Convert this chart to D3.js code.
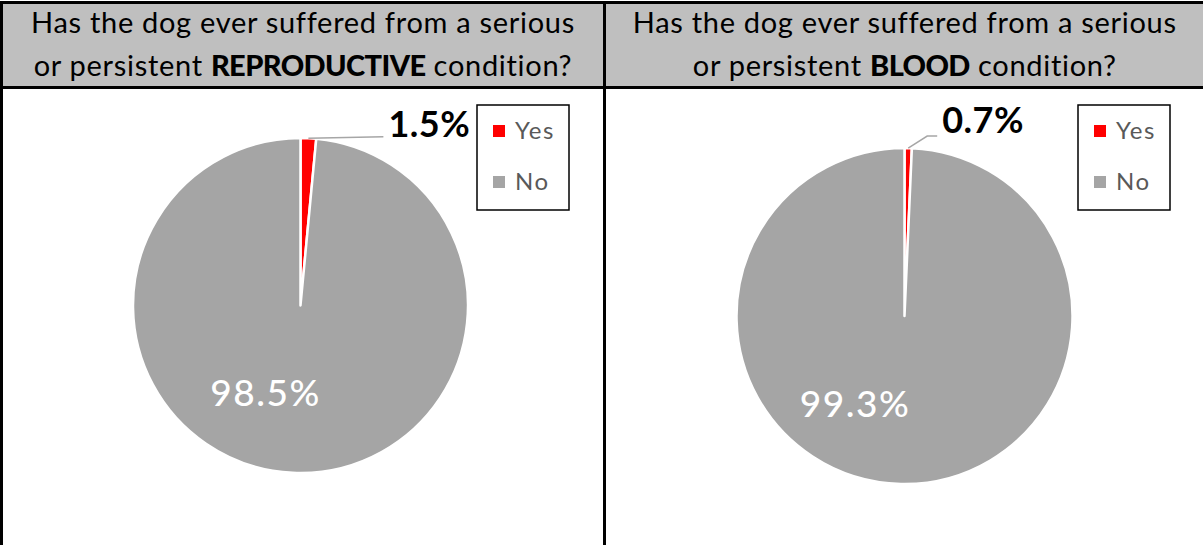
<!DOCTYPE html>
<html>
<head>
<meta charset="utf-8">
<script src="https://cdn.jsdelivr.net/npm/d3@7"></script>
<style>
  body { margin: 0; background: #fff; }
  svg { display: block; font-family: Lato, "Open Sans", sans-serif; }
</style>
</head>
<body>
<svg id="chart" width="1203" height="545"></svg>
<script>
// Answer categories and survey shares (%)
const categories = ["Yes", "No"];
const reproductiveValues = [1.5, 98.5];
const bloodValues = [0.7, 99.3];

// Question wording: plain first line, second line with a bold keyword
const titleLine1 = "Has the dog ever suffered from a serious";
const titlePrefix = "or persistent ";
const titleSuffix = " condition?";
const keywords = ["REPRODUCTIVE", "BLOOD"];

const colors = d3.scaleOrdinal(categories, ["#ff0000", "#a5a5a5"]);
const fmt = v => d3.format(".1f")(v) + "%";

const svg = d3.select("#chart");
const W = 1203, H = 545;
const headerBottom = 87.5;
const divider = 604.5;

// Per-panel geometry
const panels = [
  { x0: 1.5, x1: divider, values: reproductiveValues, keyword: keywords[0],
    cx: 300.5, cy: 305.5, r: 167.5,
    outer: { pts: [[0, 0], [75, -1.5]], text: [80, -1] },
    inner: [-35, 100],
    legendX: 477 },
  { x0: divider, x1: W + 2, values: bloodValues, keyword: keywords[1],
    cx: 904.5, cy: 316, r: 168,
    outer: { pts: [[0, 0], [19, -12], [29, -12]], text: [34, -15] },
    inner: [-49.5, 101],
    legendX: 1078 }
];

// Header background and table grid
svg.append("rect").attr("x", 1.5).attr("y", 2.5)
  .attr("width", W).attr("height", headerBottom - 2.5)
  .attr("fill", "#bfbfbf");

const grid = svg.append("g").attr("stroke", "#000").attr("stroke-width", 3).attr("fill", "none");
grid.append("line").attr("x1", 0).attr("x2", W).attr("y1", 2.5).attr("y2", 2.5);
grid.append("line").attr("x1", 0).attr("x2", W).attr("y1", headerBottom).attr("y2", headerBottom);
grid.append("line").attr("x1", 1.5).attr("x2", 1.5).attr("y1", 1).attr("y2", H);
grid.append("line").attr("x1", divider).attr("x2", divider).attr("y1", 1).attr("y2", H);

const pie = d3.pie().sort(null);
const arc = d3.arc().innerRadius(0);

panels.forEach(p => {
  const mid = (p.x0 + p.x1) / 2;

  // Header text
  const t = svg.append("text").attr("text-anchor", "middle")
    .attr("font-size", 29).attr("letter-spacing", 0.7).attr("fill", "#000");
  t.append("tspan").attr("x", mid).attr("y", 33).text(titleLine1);
  const l2 = t.append("tspan").attr("x", mid).attr("y", 76);
  l2.append("tspan").text(titlePrefix);
  l2.append("tspan").attr("font-weight", 900).attr("letter-spacing", -0.6).text(p.keyword);
  l2.append("tspan").attr("letter-spacing", 0.7).text(titleSuffix);

  // Pie slices
  const data = categories.map((c, i) => ({ cat: c, value: p.values[i] }));
  const arcs = pie.value(d => d.value)(data);
  const g = svg.append("g").attr("transform", `translate(${p.cx},${p.cy})`);
  g.selectAll("path").data(arcs).join("path")
    .attr("d", d => arc.outerRadius(p.r)(d))
    .attr("fill", d => colors(d.data.cat))
    .attr("stroke", "#fff").attr("stroke-width", 2.5).attr("stroke-linejoin", "round");

  // Outside label for the small slice, with leader line
  const small = arcs[0];
  const a = (small.startAngle + small.endAngle) / 2;
  const ax = Math.sin(a) * p.r, ay = -Math.cos(a) * p.r;
  const pts = p.outer.pts.map(([dx, dy]) => [ax + dx, ay + dy]);
  g.append("path").attr("d", d3.line()(pts))
    .attr("fill", "none").attr("stroke", "#a6a6a6").attr("stroke-width", 1.5);
  g.append("text")
    .attr("x", ax + p.outer.text[0]).attr("y", ay + p.outer.text[1])
    .attr("font-size", 36).attr("font-weight", 700).attr("letter-spacing", 0.5).attr("fill", "#000")
    .text(fmt(small.data.value));

  // Inside label for the large slice
  const big = arcs[1];
  g.append("text")
    .attr("x", p.inner[0]).attr("y", p.inner[1])
    .attr("text-anchor", "middle")
    .attr("font-size", 37).attr("font-weight", 500).attr("letter-spacing", 1.5).attr("fill", "#fff")
    .text(fmt(big.data.value));

  // Legend
  const lg = svg.append("g").attr("transform", `translate(${p.legendX},105)`);
  lg.append("rect").attr("width", 92).attr("height", 105)
    .attr("fill", "#fff").attr("stroke", "#000").attr("stroke-width", 1.5);
  const items = lg.selectAll("g.item").data(categories).join("g")
    .attr("class", "item")
    .attr("transform", (d, i) => `translate(16,${26 + i * 51})`);
  items.append("rect").attr("x", 0).attr("y", -6).attr("width", 12).attr("height", 12)
    .attr("fill", d => colors(d));
  items.append("text").attr("x", 22).attr("y", 0).attr("dy", "0.35em")
    .attr("font-size", 24).attr("letter-spacing", 1.5).attr("fill", "#595959").text(d => d);
});
</script>
</body>
</html>
